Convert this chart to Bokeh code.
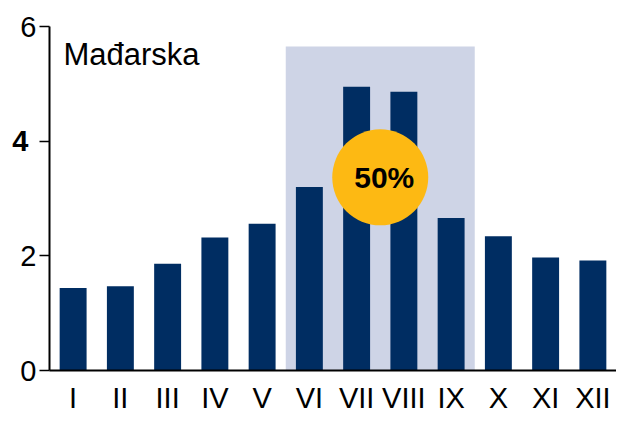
from bokeh.plotting import figure
from bokeh.models import ColumnDataSource, Label, FixedTicker, Range1d, LinearAxis
from bokeh.transform import dodge
from bokeh.core.properties import value
from bokeh.embed import file_html
from bokeh.resources import INLINE

months = ["I", "II", "III", "IV", "V", "VI", "VII", "VIII", "IX", "X", "XI", "XII"]
values = [1.44, 1.47, 1.86, 2.32, 2.56, 3.20, 4.95, 4.86, 2.66, 2.34, 1.97, 1.92]
season_months = ["VI", "VII", "VIII", "IX"]
season_top = 5.65
share_label = "50%"
share_month = "VII"
share_y = 3.37
country = "Mađarska"
y_ticks = [0, 2, 4, 6]
bold_ticks = [4]

BAR = "#002D62"
SHADE = "#CED4E6"
GOLD = "#FDB913"
FONT = "Liberation Sans"

p = figure(x_range=months, y_range=Range1d(0, 6), width=616, height=416,
           output_backend="svg", toolbar_location=None, y_axis_location=None,
           min_border_left=49, min_border_right=0, min_border_top=26, min_border_bottom=41)
p.outline_line_color = None
p.xgrid.grid_line_color = None
p.ygrid.grid_line_color = None

# shaded season
shade_src = ColumnDataSource(dict(l=[season_months[0]], r=[season_months[-1]], t=[season_top], b=[0]))
p.quad(left=dodge("l", -0.5, range=p.x_range), right=dodge("r", 0.5, range=p.x_range),
       top="t", bottom="b", source=shade_src, fill_color=SHADE, line_color=None)

src = ColumnDataSource(dict(m=months, v=values))
p.vbar(x="m", top="v", width=0.57, source=src, fill_color=BAR, line_color=None)

circ = ColumnDataSource(dict(m=[share_month], y=[share_y], t=[share_label]))
p.scatter(x=dodge("m", 0.5, range=p.x_range), y="y", size=96, source=circ,
          fill_color=GOLD, line_color=None)
p.text(x=dodge("m", 0.5, range=p.x_range), y="y", text="t", source=circ,
       x_offset=4, text_align="center", text_baseline="middle",
       text_font=value(FONT), text_font_style="bold", text_font_size="30px",
       text_color="black")

# x axis
p.xaxis.axis_line_width = 2
p.xaxis.axis_line_color = "black"
p.xaxis.major_tick_line_color = None
p.xaxis.minor_tick_line_color = None
p.xaxis.major_label_text_font = FONT
p.xaxis.major_label_text_font_size = "29px"
p.xaxis.major_label_text_color = "black"
p.xaxis.major_label_standoff = 5

# main y axis (line, ticks, regular labels)
ya = LinearAxis(ticker=FixedTicker(ticks=y_ticks))
ya.axis_line_width = 2
ya.axis_line_color = "black"
ya.major_tick_line_width = 1.5
ya.major_tick_out = 10
ya.major_tick_in = 0
ya.minor_tick_line_color = None
ya.major_label_text_font = FONT
ya.major_label_text_font_size = "29px"
ya.major_label_text_color = "black"
ya.major_label_standoff = 3
ya.major_label_overrides = {t: " " for t in bold_ticks}
p.add_layout(ya, "left")

# bold tick label(s)
yb = LinearAxis(ticker=FixedTicker(ticks=bold_ticks))
yb.axis_line_color = None
yb.major_tick_line_color = None
yb.minor_tick_line_color = None
yb.major_label_text_font = FONT
yb.major_label_text_font_size = "29px"
yb.major_label_text_font_style = "bold"
yb.major_label_text_color = "black"
yb.major_label_standoff = -17
p.add_layout(yb, "left")

p.add_layout(Label(x=0, y=6, x_offset=14, y_offset=-28, text=country,
                   text_align="left", text_baseline="alphabetic", text_font=FONT,
                   text_font_size="31px", text_color="black"))

open("out.html", "w").write(file_html(p, INLINE))
